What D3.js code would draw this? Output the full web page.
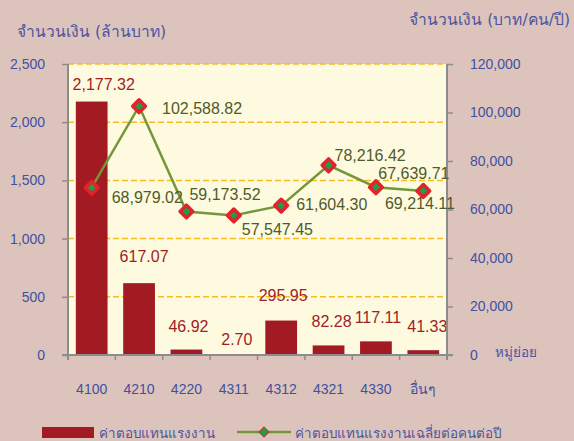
<!DOCTYPE html>
<html>
<head>
<meta charset="utf-8">
<script src="https://cdn.jsdelivr.net/npm/d3@7"></script>
<style>
  body { margin: 0; background: #dcc4bc; }
  svg { display: block; font-family: "Liberation Sans", sans-serif; }
  .thai { font-family: "DejaVu Sans", sans-serif; }
</style>
</head>
<body>
<div id="chart"></div>
<script>
var categories = ["4100", "4210", "4220", "4311", "4312", "4321", "4330", "อื่นๆ"];
var pay = [2177.32, 617.07, 46.92, 2.70, 295.95, 82.28, 117.11, 41.33];
var payPerHead = [68979.02, 102588.82, 59173.52, 57547.45, 61604.30, 78216.42, 69214.11, 67639.71];
var leftTicks = [0, 500, 1000, 1500, 2000, 2500];
var rightTicks = [0, 20000, 40000, 60000, 80000, 100000, 120000];

// label nudges (pixels), not data
var barLabelDx = [12, 5, 2, 3, 2, 3, 2, 4];
var barLabelDy = [-12, -21, -18, -10, -20, -18, -18, -18];
var lineLabelDx = [20, 23, 3, 8, 15, 6, 9, -45];
var lineLabelDy = [15, 8, -12, 20, 4, -4, 22, -12];

var W = 574, H = 441;
var m = {left: 68, right: 447, top: 64, bottom: 355};

var svg = d3.select("#chart").append("svg")
  .attr("width", W).attr("height", H);

svg.append("rect").attr("width", W).attr("height", H).attr("fill", "#dcc4bc");

var x = d3.scaleBand().domain(categories).range([m.left, m.right])
  .paddingInner(0.33).paddingOuter(0.165);
var yL = d3.scaleLinear().domain([0, 2500]).range([m.bottom, m.top]);
var yR = d3.scaleLinear().domain([0, 120000]).range([m.bottom, m.top]);

svg.append("rect")
  .attr("x", m.left).attr("y", m.top)
  .attr("width", m.right - m.left).attr("height", m.bottom - m.top)
  .attr("fill", "#fefadf");

// grid
svg.append("g").selectAll("line")
  .data(leftTicks.filter(function(d) { return d > 0; }))
  .join("line")
    .attr("x1", m.left).attr("x2", m.right)
    .attr("y1", function(d) { return yL(d); })
    .attr("y2", function(d) { return yL(d); })
    .attr("stroke", "#f5bd1e")
    .attr("stroke-width", 1.5)
    .attr("stroke-dasharray", "6,3");

// bars
svg.append("g").selectAll("rect")
  .data(pay)
  .join("rect")
    .attr("x", function(d, i) { return x(categories[i]); })
    .attr("y", function(d) { return yL(d); })
    .attr("width", x.bandwidth())
    .attr("height", function(d) { return m.bottom - yL(d); })
    .attr("fill", "#a21a22");

svg.append("g").selectAll("text")
  .data(pay)
  .join("text")
    .attr("x", function(d, i) { return x(categories[i]) + x.bandwidth() / 2 + barLabelDx[i]; })
    .attr("y", function(d, i) { return yL(d) + barLabelDy[i]; })
    .attr("text-anchor", "middle")
    .attr("font-size", 16)
    .attr("fill", "#a01e25")
    .text(function(d) { return d3.format(",.2f")(d); });

// axes
var axisColor = "#8c8c8c", tickColor = "#3f50a0";

var gl = svg.append("g")
  .attr("transform", "translate(" + m.left + ",0)")
  .call(d3.axisLeft(yL).tickValues(leftTicks).tickFormat(d3.format(",")).tickSize(6).tickSizeOuter(0).tickPadding(17));
var gr = svg.append("g")
  .attr("transform", "translate(" + m.right + ",0)")
  .call(d3.axisRight(yR).tickValues(rightTicks).tickFormat(d3.format(",")).tickSize(6).tickSizeOuter(0).tickPadding(17));
var gb = svg.append("g")
  .attr("transform", "translate(0," + m.bottom + ")")
  .call(d3.axisBottom(x).tickSize(0).tickPadding(29));

[gl, gr, gb].forEach(function(g) {
  g.select(".domain").remove();
  g.selectAll("line").attr("stroke", axisColor).attr("stroke-width", 1.5);
  g.selectAll("text").attr("fill", tickColor).attr("font-size", 14)
    .attr("font-family", "'Liberation Sans', sans-serif");
});

svg.append("line").attr("x1", m.left).attr("x2", m.left).attr("y1", m.top).attr("y2", m.bottom + 5)
  .attr("stroke", axisColor).attr("stroke-width", 2);
svg.append("line").attr("x1", m.right).attr("x2", m.right).attr("y1", m.top).attr("y2", m.bottom + 5)
  .attr("stroke", axisColor).attr("stroke-width", 2);
svg.append("line").attr("x1", m.left - 6).attr("x2", m.right + 6).attr("y1", m.bottom).attr("y2", m.bottom)
  .attr("stroke", axisColor).attr("stroke-width", 2);
svg.append("g").selectAll("line")
  .data(d3.range(categories.length + 1))
  .join("line")
    .attr("x1", function(i) { return m.left + i * x.step(); })
    .attr("x2", function(i) { return m.left + i * x.step(); })
    .attr("y1", m.bottom).attr("y2", m.bottom + 5)
    .attr("stroke", axisColor).attr("stroke-width", 1.5);

// line series
var cx = function(i) { return x(categories[i]) + x.bandwidth() / 2; };
svg.append("path")
  .datum(payPerHead)
  .attr("fill", "none")
  .attr("stroke", "#76963a")
  .attr("stroke-width", 2.5)
  .attr("d", d3.line()
    .x(function(d, i) { return cx(i); })
    .y(function(d) { return yR(d); }));

svg.append("g").selectAll("path")
  .data(payPerHead)
  .join("path")
    .attr("d", d3.symbol(d3.symbolSquare, 81))
    .attr("transform", function(d, i) { return "translate(" + cx(i) + "," + yR(d) + ") rotate(45)"; })
    .attr("fill", "#1e9e4a")
    .attr("stroke", "#e5212a")
    .attr("stroke-width", 3.5)
    .attr("stroke-linejoin", "round");

svg.append("g").selectAll("text")
  .data(payPerHead)
  .join("text")
    .attr("x", function(d, i) { return cx(i) + lineLabelDx[i]; })
    .attr("y", function(d, i) { return yR(d) + lineLabelDy[i]; })
    .attr("font-size", 16)
    .attr("fill", "#505a2a")
    .text(function(d) { return d3.format(",.2f")(d); });

// titles
svg.append("text").attr("class", "thai").attr("x", 17).attr("y", 37).attr("font-size", 15.6).attr("fill", "#4b55a0")
  .text("จำนวนเงิน (ล้านบาท)");
svg.append("text").attr("class", "thai").attr("x", 570).attr("y", 25).attr("text-anchor", "end").attr("font-size", 15.6).attr("fill", "#4b55a0")
  .text("จำนวนเงิน (บาท/คน/ปี)");
svg.append("text").attr("class", "thai").attr("x", 495).attr("y", 357).attr("font-size", 13.5).attr("fill", "#4b55a0")
  .text("หมู่ย่อย");

// legend
var lg = svg.append("g");
lg.append("rect").attr("x", 42).attr("y", 427).attr("width", 52).attr("height", 11).attr("fill", "#a21a22");
lg.append("text").attr("class", "thai").attr("x", 99).attr("y", 438).attr("font-size", 13.4).attr("fill", "#4b55a0").text("ค่าตอบแทนแรงงาน");
lg.append("line").attr("x1", 237).attr("x2", 291).attr("y1", 432).attr("y2", 432)
  .attr("stroke", "#76963a").attr("stroke-width", 2.5);
lg.append("path").attr("d", d3.symbol(d3.symbolSquare, 49))
  .attr("transform", "translate(264,432) rotate(45)")
  .attr("fill", "#1e9e4a").attr("stroke", "#c0392b").attr("stroke-width", 1);
lg.append("text").attr("class", "thai").attr("x", 295).attr("y", 438).attr("font-size", 13.4).attr("fill", "#4b55a0").text("ค่าตอบแทนแรงงานเฉลี่ยต่อคนต่อปี");
</script>
</body>
</html>
